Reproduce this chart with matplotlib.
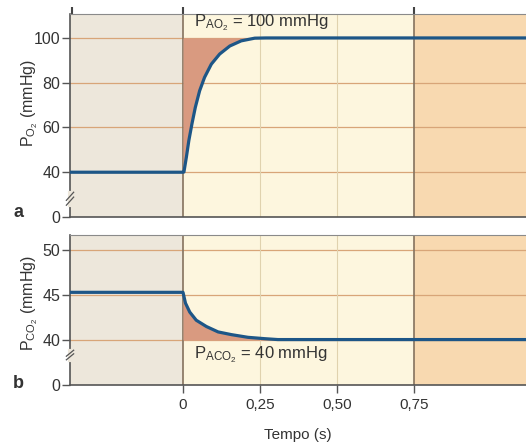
import numpy as np
import matplotlib
matplotlib.use('Agg')
import matplotlib.pyplot as plt

# ---------- 데이터 ----------
# a) P_O2 : 폐모세혈관을 지나는 동안의 변화
t_o2 = [-0.367, 0.0, 0.003, 0.011, 0.019, 0.029, 0.040, 0.054, 0.070, 0.092,
        0.119, 0.152, 0.189, 0.233, 0.27, 1.114]
p_o2 = [40, 40, 40.1, 46.8, 54.2, 61.6, 69.0, 76.4, 82.4, 88.3,
        92.8, 96.4, 98.7, 99.9, 100, 100]
# b) P_CO2
t_co2 = [-0.367, 0.0, 0.002, 0.008, 0.022, 0.043, 0.076, 0.114, 0.157, 0.211,
         0.265, 0.308, 1.114]
p_co2 = [45.3, 45.3, 45.0, 44.1, 43.1, 42.2, 41.5, 40.9, 40.6, 40.3,
         40.15, 40.05, 40.05]

alv_o2 = 100
alv_co2 = 40

yticks_o2 = [0, 40, 60, 80, 100]
yticks_co2 = [0, 40, 45, 50]
xticks = [0, 0.25, 0.50, 0.75]
xtick_labels = ['0', '0,25', '0,50', '0,75']

# ---------- 스타일 ----------
c_left = '#ede7db'
c_mid = '#fdf6de'
c_right = '#f8d9b0'
c_fill = '#d99a80'
c_line = '#1d5687'
c_hgrid = '#d8a578'
c_vgrid = '#e0d2ae'
c_vdark = '#85725e'
c_spine = '#555555'
c_text = '#333333'

plt.rcParams['font.family'] = ['Liberation Sans', 'DejaVu Sans']

fig = plt.figure(figsize=(5.26, 4.43), dpi=100)
ax1 = fig.add_axes([0.1331, 0.5102, 0.8669, 0.4582])
ax2 = fig.add_axes([0.1331, 0.1309, 0.8669, 0.3386])


def broken_scale(slope):
    # 0~40 구간을 압축해서 축 끊김 표현
    def fwd(y):
        y = np.asarray(y, dtype=float)
        return np.where(y >= 40, y, 40 - (40 - y) * slope)

    def inv(y):
        y = np.asarray(y, dtype=float)
        return np.where(y >= 40, y, 40 - (40 - y) / slope)
    return fwd, inv


def setup(ax, slope, ylim, yticks, yb):
    ax.set_yscale('function', functions=broken_scale(slope))
    ax.set_xlim(-0.367, 1.114)
    ax.set_ylim(*ylim)
    ax.axvspan(-0.367, 0, color=c_left, zorder=0, lw=0)
    ax.axvspan(0, 0.75, color=c_mid, zorder=0, lw=0)
    ax.axvspan(0.75, 1.114, color=c_right, zorder=0, lw=0)
    for y in yticks[1:]:
        ax.axhline(y, color=c_hgrid, lw=0.9, zorder=1)
    for x in [0.25, 0.5]:
        ax.axvline(x, color=c_vgrid, lw=0.8, zorder=1)
    for x in [0, 0.75]:
        ax.axvline(x, color=c_vdark, lw=1.2, zorder=1)
    ax.set_yticks(yticks)
    ax.set_yticklabels([str(v) for v in yticks])
    ax.tick_params(axis='y', direction='out', length=6, width=1, color=c_spine,
                   labelsize=11.5, labelcolor=c_text, pad=1)
    ax.spines['right'].set_visible(False)
    for s in ['left', 'bottom']:
        ax.spines[s].set_color(c_spine)
        ax.spines[s].set_linewidth(1.2)
    ax.spines['top'].set_color('#8a8a8a')
    ax.spines['top'].set_linewidth(0.8)
    # 축 끊김 표시
    ax.plot([0, 0], [yb - 0.03, yb + 0.03], transform=ax.transAxes, color=c_left,
            lw=3, clip_on=False, zorder=5)
    for dy in [-0.012, 0.012]:
        ax.plot([-0.008, 0.008], [yb + dy - 0.02, yb + dy + 0.02],
                transform=ax.transAxes, color=c_spine, lw=0.9, clip_on=False, zorder=6)


setup(ax1, 0.5, (0, 110.7), yticks_o2, 0.09)
setup(ax2, 0.125, (0, 51.67), yticks_co2, 0.2)

# a) O2
t1 = np.array(t_o2)
p1 = np.array(p_o2)
m1 = (t1 >= 0) & (t1 <= 0.27)
ax1.fill_between(t1[m1], p1[m1], alv_o2, color=c_fill, lw=0, zorder=2)
ax1.plot(t_o2, p_o2, color=c_line, lw=2.3, zorder=4, solid_joinstyle='round')
ax1.set_xticks([-0.36, 0, 0.75])
ax1.tick_params(axis='x', bottom=False, top=True, labelbottom=False, labeltop=False,
                direction='out', length=5, width=1.5, color='#444444')
ax1.text(0.035, 0.955, r'$\mathregular{P_{AO_2}}$ = 100 mmHg', transform=ax1.get_xaxis_transform(),
         fontsize=12, color=c_text, va='center', ha='left', zorder=6)
ax1.set_ylabel(r'$\mathregular{P_{O_2}}$ (mmHg)', fontsize=11.5, color=c_text)
ax1.yaxis.set_label_coords(-0.066, 0.56)

# b) CO2
t2 = np.array(t_co2)
p2 = np.array(p_co2)
m2 = (t2 >= 0) & (t2 <= 0.308)
ax2.fill_between(t2[m2], alv_co2, p2[m2], color=c_fill, lw=0, zorder=2)
ax2.plot(t_co2, p_co2, color=c_line, lw=2.3, zorder=4, solid_joinstyle='round')
ax2.set_xticks(xticks)
ax2.set_xticklabels(xtick_labels)
ax2.tick_params(axis='x', direction='out', length=6, width=1, color=c_spine,
                labelsize=11, labelcolor=c_text, pad=3)
ax2.text(0.035, 0.2, r'$\mathregular{P_{ACO_2}}$ = 40 mmHg', transform=ax2.get_xaxis_transform(),
         fontsize=12, color=c_text, va='center', ha='left', zorder=6)
ax2.set_ylabel(r'$\mathregular{P_{CO_2}}$ (mmHg)', fontsize=11.5, color=c_text)
ax2.yaxis.set_label_coords(-0.066, 0.55)
ax2.set_xlabel('Tempo (s)', fontsize=11, color=c_text, labelpad=12)

fig.text(13 / 526, 1 - 213 / 443, 'a', fontsize=13, fontweight='bold', color=c_text,
         ha='left', va='center')
fig.text(13 / 526, 1 - 384 / 443, 'b', fontsize=13, fontweight='bold', color=c_text,
         ha='left', va='center')

fig.savefig('out.png', dpi=100, facecolor='white')
